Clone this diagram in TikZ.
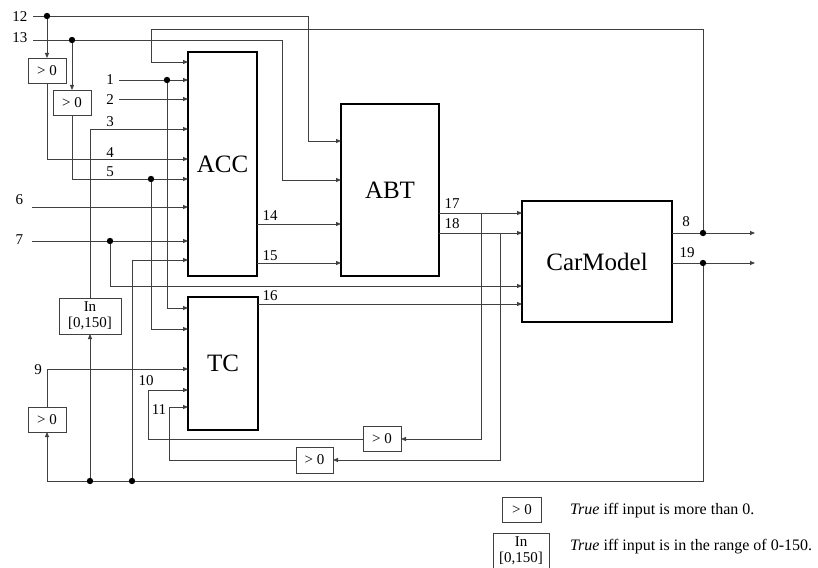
\documentclass[tikz,border=0pt]{standalone}
\usepackage{fontspec}
\setmainfont{Liberation Serif}
\usetikzlibrary{arrows.meta,calc}
\begin{document}
\begin{tikzpicture}[x=1pt,y=-1pt,
  wire/.style={draw=black!75, line width=0.8pt},
  arr/.style={wire, -{Triangle[length=5pt,width=4pt]}},
  blk/.style={draw=black, line width=2.4pt, inner sep=0pt, outer sep=0pt, font=\fontsize{25}{25}\selectfont},
  gt/.style={draw=black!75, line width=0.8pt, inner sep=0pt, outer sep=0pt, minimum width=38pt, minimum height=25pt, font=\fontsize{15}{16}\selectfont},
  lbl/.style={font=\fontsize{15}{15}\selectfont, inner sep=0pt},
  note/.style={font=\fontsize{16}{16}\selectfont, inner sep=0pt, anchor=west},
  jdot/.style={fill=black}
]
\useasboundingbox (0,0) rectangle (818,567);

% main blocks
\node[blk, minimum width=69pt, minimum height=224pt] (ACC) at (222.5,164) {ACC};
\node[blk, minimum width=70pt, minimum height=133pt] (TC) at (223,363.5) {TC};
\node[blk, minimum width=98pt, minimum height=172pt] (ABT) at (390,190) {ABT};
\node[blk, minimum width=150pt, minimum height=121pt] (CM) at (597,261.5) {CarModel};

% small function boxes
\node[gt] (g1) at (47,70.5) {> 0};
\node[gt] (g2) at (72,102.5) {> 0};
\node[gt] (g3) at (47,419.5) {> 0};
\node[gt] (g4) at (382,439) {> 0};
\node[gt, minimum width=37pt, minimum height=26pt] (g5) at (314.5,460) {> 0};
\node[gt, minimum width=62pt, minimum height=36pt, align=center] (rng) at (90,316) {In\\{[0,150]}};

% legend
\node[gt, minimum width=39pt] (lg1) at (522,509.5) {> 0};
\node[gt, minimum width=56pt, minimum height=36pt, align=center] (lg2) at (521,551) {In\\{[0,150]}};
\node[note] (lt1) at (570,511) {\textit{True} iff input is more than 0.};
\node[note] (lt2) at (570,547) {\textit{True} iff input is in the range of 0-150.};

% coordinates
\coordinate (in12) at (33,16);
\coordinate (j12) at (47,16);
\coordinate (k12) at (308,141);
\coordinate (in13) at (33,40);
\coordinate (j13) at (72,40);
\coordinate (k13) at (282,180);
\coordinate (in1) at (119,80);
\coordinate (j1) at (167,80);
\coordinate (t1) at (167,308);
\coordinate (in2) at (119,99);
\coordinate (k3) at (90,129);
\coordinate (k4) at (47,159);
\coordinate (k5) at (72,179);
\coordinate (j5) at (151,179);
\coordinate (t5) at (151,329);
\coordinate (in6) at (32,207);
\coordinate (in7) at (32,241);
\coordinate (j7) at (110,241);
\coordinate (k7) at (110,286);
\coordinate (ob) at (703,481);
\coordinate (jb1) at (90,481);
\coordinate (jb2) at (132,481);
\coordinate (kb2) at (132,260);
\coordinate (k9) at (47,369);
\coordinate (y14) at (0,224);
\coordinate (y15) at (0,263);
\coordinate (y16) at (0,304);
\coordinate (j17) at (481,213);
\coordinate (j18) at (500,233);
\coordinate (k10) at (148,390);
\coordinate (k11) at (169,407);
\coordinate (j8) at (703,233);
\coordinate (j19) at (703,263);
\coordinate (end8) at (755,233);
\coordinate (end19) at (755,263);
\coordinate (fb) at (151,29);
\coordinate (fbin) at (151,62);

% connectors
\draw[arr] (in12) -| (k12) -- (ABT.west |- k12);
\draw[arr] (j12) -- (g1.north);
\draw[arr] (g1.south) |- (ACC.west |- k4);
\draw[arr] (in13) -| (k13) -- (ABT.west |- k13);
\draw[arr] (j13) -- (g2.north);
\draw[arr] (g2.south) |- (ACC.west |- k5);
\draw[arr] (j5) -- (t5) -- (TC.west |- t5);
\draw[arr] (in1) -- (ACC.west |- in1);
\draw[arr] (j1) -- (t1) -- (TC.west |- t1);
\draw[arr] (in2) -- (ACC.west |- in2);
\draw[arr] (rng.north) |- (ACC.west |- k3);
\draw[arr] (in6) -- (ACC.west |- in6);
\draw[arr] (in7) -- (ACC.west |- in7);
\draw[arr] (j7) |- (CM.west |- k7);
\draw[arr] (j19) -- (ob) -| (g3.south);
\draw[arr] (jb1) -- (rng.south);
\draw[arr] (jb2) |- (ACC.west |- kb2);
\draw[arr] (g3.north) |- (TC.west |- k9);
\draw[arr] (ACC.east |- y14) -- (ABT.west |- y14);
\draw[arr] (ACC.east |- y15) -- (ABT.west |- y15);
\draw[arr] (TC.east |- y16) -- (CM.west |- y16);
\draw[arr] (ABT.east |- j17) -- (CM.west |- j17);
\draw[arr] (ABT.east |- j18) -- (CM.west |- j18);
\draw[arr] (j17) |- (g4.east);
\draw[arr] (j18) |- (g5.east);
\draw[arr] (g4.west) -| (k10) -- (TC.west |- k10);
\draw[arr] (g5.west) -| (k11) -- (TC.west |- k11);
\draw[arr] (CM.east |- j8) -- (end8);
\draw[arr] (CM.east |- j19) -- (end19);
\draw[arr] (j8) |- (fb) -- (fbin) -- (ACC.west |- fbin);

% junction dots
\foreach \p in {j12,j13,j1,j5,j7,jb1,jb2,j8,j19}
  \fill[jdot] (\p) circle (3.2pt);

% labels
\node[lbl] (l12) at (20,17) {12};
\node[lbl] (l13) at (20,38) {13};
\node[lbl] (l1) at (110,80) {1};
\node[lbl] (l2) at (110,100) {2};
\node[lbl] (l3) at (110,122) {3};
\node[lbl] (l4) at (110,153) {4};
\node[lbl] (l5) at (110,172) {5};
\node[lbl] (l6) at (19.5,200) {6};
\node[lbl] (l7) at (19.5,240) {7};
\node[lbl] (l9) at (38,370) {9};
\node[lbl] (l10) at (146,381) {10};
\node[lbl] (l11) at (159,410) {11};
\node[lbl] (l14) at (270,216) {14};
\node[lbl] (l15) at (270,256) {15};
\node[lbl] (l16) at (270,296) {16};
\node[lbl] (l17) at (452,204) {17};
\node[lbl] (l18) at (452,224) {18};
\node[lbl] (l8) at (686,222) {8};
\node[lbl] (l19) at (687,253) {19};
\end{tikzpicture}
\end{document}
